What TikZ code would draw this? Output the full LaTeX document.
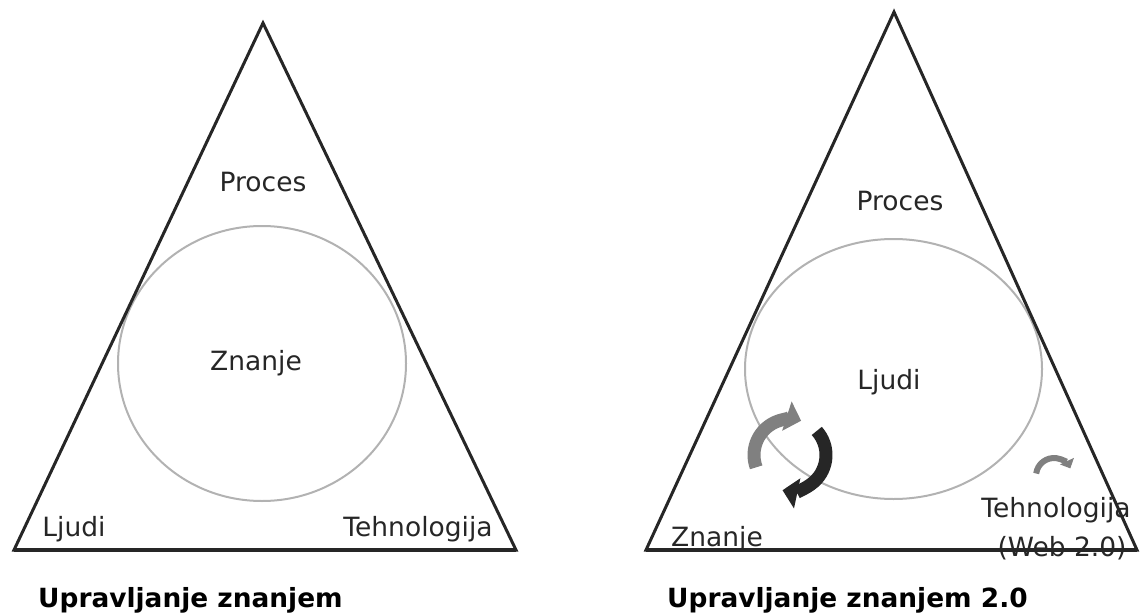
\documentclass[tikz,border=0pt]{standalone}
\usepackage{fontspec}
\setmainfont{DejaVu Sans}
\usepackage{tikz}
\usetikzlibrary{arrows.meta}

\begin{document}
\begin{tikzpicture}[
    x=1pt, y=-1pt,
    cote/.style={line width=3pt, draw=black!85},
    rond/.style={line width=2pt, draw=black!30},
    etiquette/.style={font=\fontsize{26.5}{32}\selectfont, text=black!85, inner sep=0pt, anchor=base},
    titre/.style={font=\fontsize{26.4}{32}\selectfont\bfseries, inner sep=0pt, anchor=base west},
    fleche/.style={line width=13pt, -{Triangle[width=30pt,length=15pt]}},
  ]
  \useasboundingbox (0,0) rectangle (1140,615);
  % premier triangle
  \coordinate (A1) at (263,23);
  \coordinate (B1) at (14,550);
  \coordinate (C1) at (516,550);
  \draw[rond] (262,363.5) ellipse [x radius=144, y radius=137.5];
  \draw[cote] (A1) -- (B1) -- (C1) -- cycle;
  \draw[cote, line width=4pt] (B1) -- (C1);
  \node[etiquette] (proces1) at (263,191) {Proces};
  \node[etiquette] (znanje1) at (256,370) {Znanje};
  \node[etiquette] (ljudi1) at (74,536) {Ljudi};
  \node[etiquette] (tehno1) at (418,536) {Tehnologija};
  \node[titre] (titre1) at (38,607) {Upravljanje znanjem};
  % second triangle
  \coordinate (A2) at (894,12);
  \coordinate (B2) at (646,550);
  \coordinate (C2) at (1137,550);
  \draw[rond] (893.5,369) ellipse [x radius=148.5, y radius=130];
  \draw[cote] (A2) -- (B2) -- (C2) -- cycle;
  \draw[cote, line width=4pt] (B2) -- (C2);
  \coordinate (tourne) at (790,455);
  \draw[fleche, black!50] (tourne) ++(160:36) arc[start angle=160, end angle=288, radius=36];
  \draw[fleche, black!85] (tourne) ++(318:36) arc[start angle=318, end angle=462, radius=36];
  \coordinate (web) at (1054,476);
  \draw[black!50, line width=6pt, -{Triangle[width=15pt,length=8pt]}]
    (web) ++(188:18) arc[start angle=188, end angle=335, radius=18];
  \node[etiquette] (proces2) at (900,210) {Proces};
  \node[etiquette] (ljudi2) at (889,389) {Ljudi};
  \node[etiquette] (znanje2) at (717,546) {Znanje};
  \node[etiquette] (tehno2) at (1056,517) {Tehnologija};
  \node[etiquette] (web2) at (1062,556) {(Web 2.0)};
  \node[titre] (titre2) at (667,607) {Upravljanje znanjem 2.0};
\end{tikzpicture}
\end{document}
